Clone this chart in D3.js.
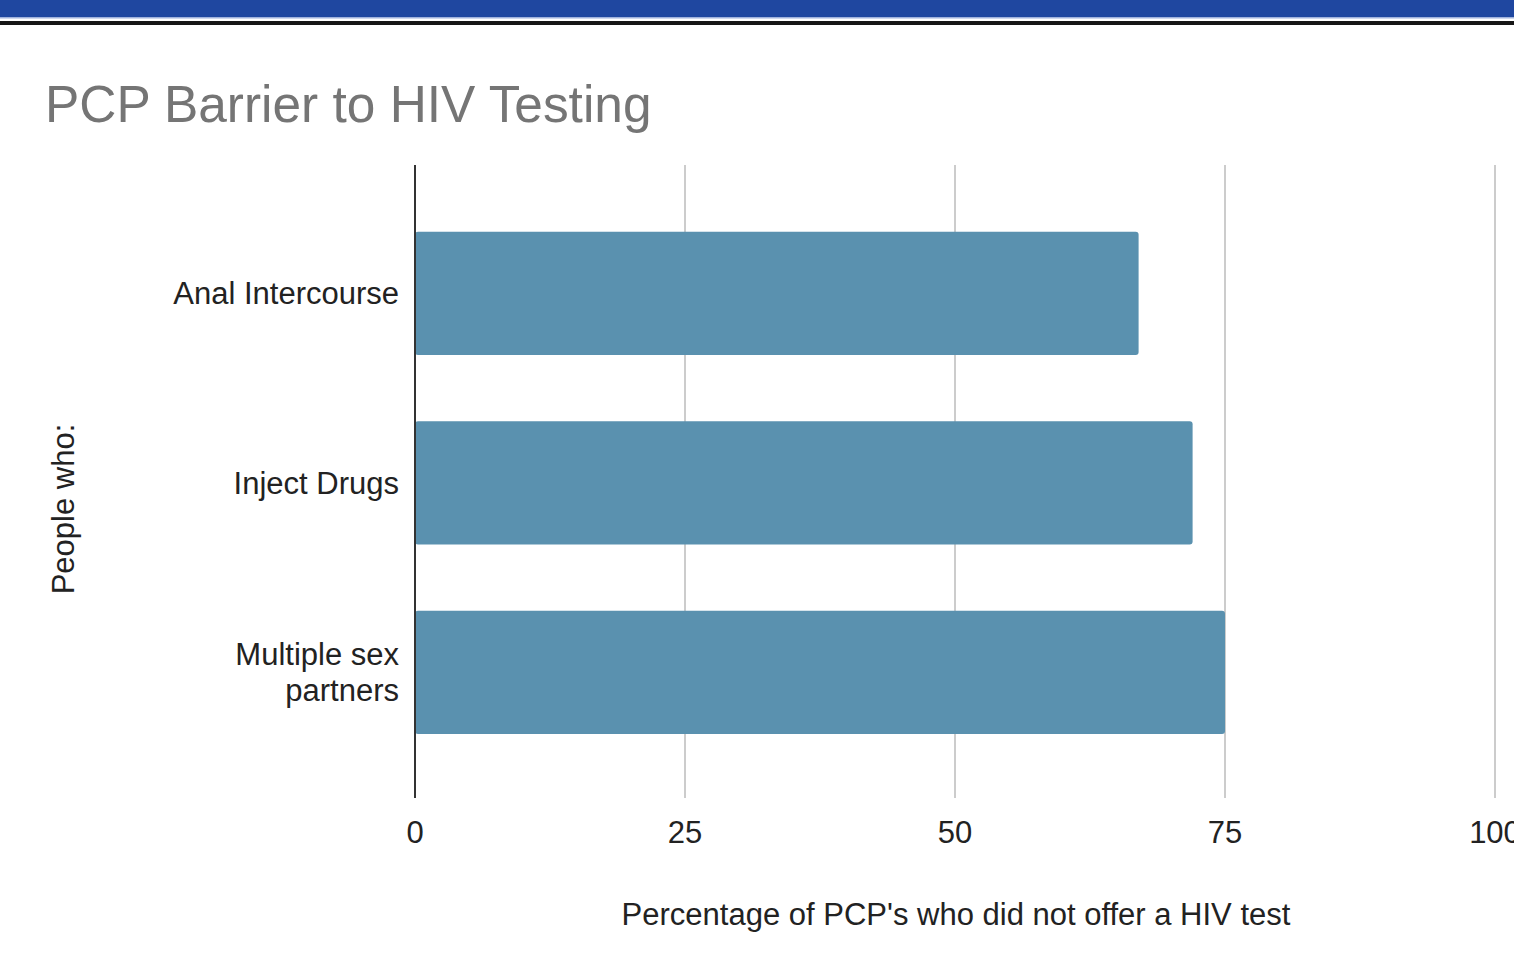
<!DOCTYPE html>
<html><head><meta charset="utf-8">
<script src="https://cdn.jsdelivr.net/npm/d3@7"></script>
<style>
html,body{margin:0;padding:0;background:#fff;overflow:hidden;}
svg{display:block;font-family:"Liberation Sans",Arial,sans-serif;}
</style></head>
<body>
<svg id="chart" width="1514" height="963"></svg>
<script>
const categories = [["Anal Intercourse"], ["Inject Drugs"], ["Multiple sex", "partners"]];
const values = [67, 72, 75];
const tickValues = [0, 25, 50, 75, 100];
const chartTitle = "PCP Barrier to HIV Testing";
const xTitle = "Percentage of PCP's who did not offer a HIV test";
const yTitle = "People who:";

(function(){
const svg = d3.select("#chart");
const W = 1514, H = 963;

// header bands
svg.append("rect").attr("x",0).attr("y",0).attr("width",W).attr("height",17).attr("fill","#1f47a0");
svg.append("rect").attr("x",0).attr("y",17).attr("width",W).attr("height",1.5).attr("fill","#9fb2dd");
svg.append("rect").attr("x",0).attr("y",21).attr("width",W).attr("height",4).attr("fill","#161616");

const pL = 415, pR = 1495, pT = 165, pB = 798;
const x = d3.scaleLinear().domain([0,100]).range([pL,pR]);
const keys = categories.map(c => c.join(" "));
const y = d3.scaleBand().domain(keys).range([pT,pB]).paddingInner(0.35).paddingOuter(0.345).align(0.51);

// title
svg.append("text").attr("x",45).attr("y",122).attr("font-size",51.4).attr("fill","#757575").text(chartTitle);

// gridlines
svg.append("g").selectAll("line").data(tickValues.filter(d=>d>0)).join("line")
  .attr("x1",d=>x(d)).attr("x2",d=>x(d)).attr("y1",pT).attr("y2",pB)
  .attr("stroke","#cccccc").attr("stroke-width",2);

// bars
svg.append("g").selectAll("rect").data(values).join("rect")
  .attr("x",x(0)).attr("y",(d,i)=>y(keys[i])).attr("width",d=>x(d)-x(0)).attr("height",y.bandwidth())
  .attr("rx",3).attr("fill","#5a91af");

// baseline axis
svg.append("line").attr("x1",x(0)).attr("x2",x(0)).attr("y1",pT).attr("y2",pB)
  .attr("stroke","#333").attr("stroke-width",2);

// x tick labels
svg.append("g").selectAll("text").data(tickValues).join("text")
  .attr("x",d=>x(d)).attr("y",843).attr("text-anchor","middle").attr("font-size",31).attr("fill","#222")
  .text(d=>d);

// category labels
const lab = svg.append("g");
categories.forEach((lines,i)=>{
  const cy = y(keys[i]) + y.bandwidth()/2;
  const n = lines.length, lh = 36;
  lines.forEach((t,j)=>{
    lab.append("text").attr("x",399).attr("y",cy + (j-(n-1)/2)*lh + 11)
      .attr("text-anchor","end").attr("font-size",31).attr("fill","#222").text(t);
  });
});

// axis titles
svg.append("text").attr("x",956).attr("y",925).attr("text-anchor","middle").attr("font-size",31).attr("fill","#222").text(xTitle);
svg.append("text").attr("transform","translate(74,509) rotate(-90)").attr("text-anchor","middle").attr("font-size",31).attr("fill","#222").text(yTitle);
})();
</script>
</body></html>
